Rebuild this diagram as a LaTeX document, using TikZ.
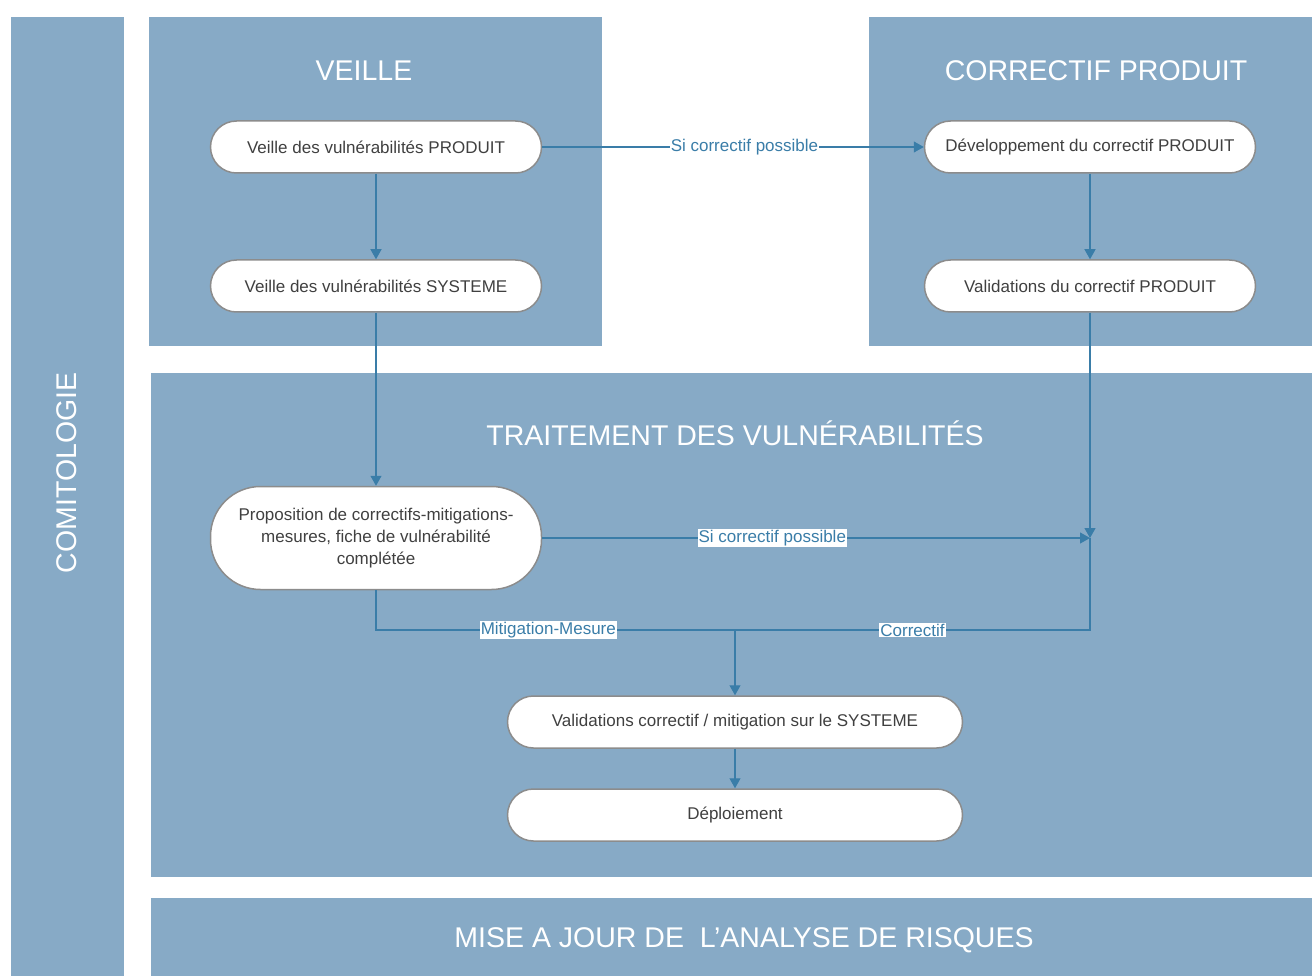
\documentclass[tikz,border=0pt]{standalone}
\usepackage{fontspec}
\setmainfont{Liberation Sans}
\usetikzlibrary{arrows.meta}
\definecolor{panel}{RGB}{135,170,198}
\definecolor{flow}{RGB}{58,125,168}
\definecolor{ntext}{RGB}{64,64,64}
\definecolor{nborder}{RGB}{140,140,140}
\tikzset{
  panelbox/.style={fill=panel,draw=none},
  ptitle/.style={text=white,font=\fontsize{28.5}{31}\selectfont,inner sep=0pt},
  stepbox/.style={draw=nborder,line width=1.5pt,fill=white,text=ntext,
    font=\fontsize{17}{22}\selectfont,align=center,
    minimum width=331pt,minimum height=52pt,rounded corners=26pt,inner sep=2pt},
  widebox/.style={stepbox,minimum width=455pt},
  flowline/.style={draw=flow,line width=1.2pt},
  flowarrow/.style={flowline,-{Triangle[width=11pt,length=10pt]}},
  flowlabel/.style={fill=white,text=flow,font=\fontsize{17}{20}\selectfont,inner sep=1pt}
}
\begin{document}
\begin{tikzpicture}[x=1pt,y=-1pt]
\useasboundingbox (0,0) rectangle (1312,976);
\fill[white] (0,0) rectangle (1312,976);
% panels
\fill[panelbox] (11,17) rectangle (124,976);
\fill[panelbox] (149,17) rectangle (602,346);
\fill[panelbox] (869,17) rectangle (1312,346);
\fill[panelbox] (151,373) rectangle (1312,877);
\fill[panelbox] (151,898) rectangle (1312,976);
% titles
\node[ptitle,rotate=90] (tcomit) at (67,473) {COMITOLOGIE};
\node[ptitle] (tveille) at (364,71) {VEILLE};
\node[ptitle] (tcorr) at (1096,71) {CORRECTIF PRODUIT};
\node[ptitle] (ttrait) at (735,433) {TRAITEMENT DES VULNÉRABILITÉS};
\node[ptitle] (tmaj) at (744,940) {MISE A JOUR DE\ \ L’ANALYSE DE RISQUES};
% nodes
\node[stepbox] (n1) at (376,147) {Veille des vulnérabilités PRODUIT};
\node[stepbox] (n2) at (376,286) {Veille des vulnérabilités SYSTEME};
\node[stepbox] (n3) at (1090,147) {Développement du correctif PRODUIT};
\node[stepbox] (n4) at (1090,286) {Validations du correctif PRODUIT};
\node[stepbox,minimum height=103pt,rounded corners=50pt] (n5) at (376,538)
  {Proposition de correctifs-mitigations-\\mesures, fiche de vulnérabilité\\complétée};
\node[widebox] (n6) at (735,722) {Validations correctif / mitigation sur le SYSTEME};
\node[widebox] (n7) at (735,815) {Déploiement};
\coordinate (J) at (1090,538);
\coordinate (M) at (735,630);
% connectors
\draw[flowarrow] (n1.east) -- node[flowlabel,pos=0.53] (l1) {Si correctif possible} (n3.west);
\draw[flowarrow] (n1.south) -- (n2.north);
\draw[flowarrow] (n2.south) -- (n5.north);
\draw[flowarrow] (n3.south) -- (n4.north);
\draw[flowarrow] (n4.south) -- (J);
\draw[flowarrow] (n5.east) -- node[flowlabel,pos=0.42] (l2) {Si correctif possible} (J);
\draw[flowline] (n5.south) |- node[flowlabel,pos=0.74] (l3) {Mitigation-Mesure} (M);
\draw[flowline] (J) |- node[flowlabel,pos=0.75] (l4) {Correctif} (M);
\draw[flowarrow] (M) -- (n6.north);
\draw[flowarrow] (n6.south) -- (n7.north);
\end{tikzpicture}
\end{document}
